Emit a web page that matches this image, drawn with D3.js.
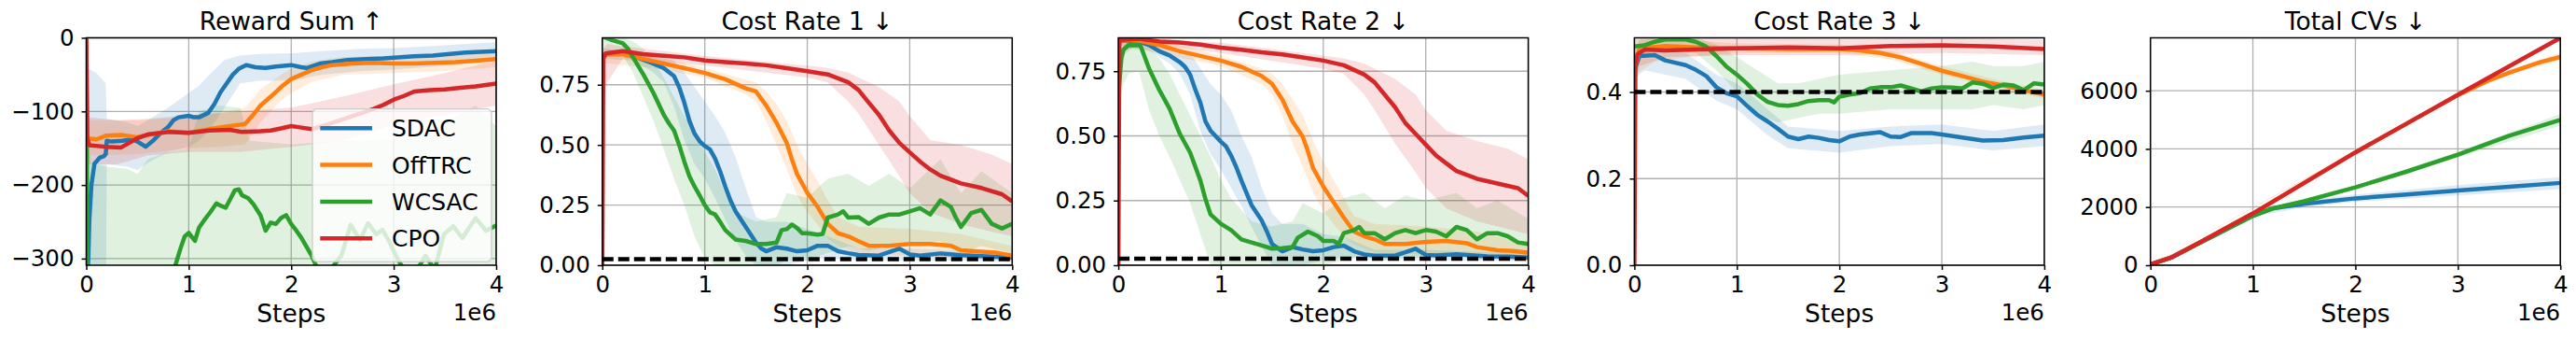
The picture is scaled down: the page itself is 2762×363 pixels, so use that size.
<!DOCTYPE html>
<html>
<head>
<meta charset="utf-8">
<script src="https://cdn.jsdelivr.net/npm/d3@7"></script>
<style>
body { margin: 0; background: #ffffff; }
svg { display: block; font-family: "DejaVu Sans", sans-serif; }
</style>
</head>
<body>
<svg id="chart" width="2762" height="363"></svg>
<script>
//=================== Data (steps in millions) ===================
const algoNames = ["SDAC", "OffTRC", "WCSAC", "CPO"];
const panelTitles = ["Reward Sum ↑", "Cost Rate 1 ↓", "Cost Rate 2 ↓", "Cost Rate 3 ↓", "Total CVs ↓"];
const stepTicks = [0, 1, 2, 3, 4];
const rewardTicks = [0, -100, -200, -300];
const cost1Ticks = [0, 0.25, 0.5, 0.75];
const cost2Ticks = [0, 0.25, 0.5, 0.75];
const cost3Ticks = [0, 0.2, 0.4];
const cvTicks = [0, 2000, 4000, 6000];
const yDomains = [[-309, 0], [0, 0.945], [0, 0.879], [0, 0.525], [0, 7820]];
const costLimits = [null, 0.025, 0.025, 0.4, null];

// ---- Reward Sum ----
const rewardSDAC = [[0,-360],[0.02,-300],[0.03,-248],[0.05,-200],[0.08,-171],[0.13,-163],[0.17,-161],[0.19,-158],[0.2,-140],[0.25,-141],[0.35,-140],[0.45,-138],[0.5,-141],[0.58,-148],[0.65,-140],[0.72,-130],[0.8,-121],[0.85,-112],[0.9,-108],[1.0,-106],[1.05,-108],[1.1,-108],[1.19,-102],[1.25,-90],[1.31,-74],[1.38,-60],[1.43,-50],[1.49,-42],[1.56,-37],[1.65,-40],[1.75,-41],[1.85,-39],[2.0,-37],[2.1,-40],[2.15,-41],[2.28,-35],[2.4,-33],[2.55,-30],[2.73,-29],[2.9,-28],[3.0,-27],[3.2,-25],[3.38,-24],[3.55,-22],[3.7,-20],[3.85,-19],[4.0,-18]];
const rewardSDACBand = [[0,-400,-300],[0.02,-400,-42],[0.1,-400,-48],[0.19,-400,-62],[0.2,-172,-110],[0.4,-175,-115],[0.5,-180,-120],[0.6,-170,-112],[0.8,-155,-95],[1.0,-148,-75],[1.1,-140,-65],[1.2,-125,-50],[1.35,-95,-30],[1.5,-62,-24],[1.7,-58,-22],[2.0,-58,-21],[2.3,-50,-18],[2.7,-45,-15],[3.0,-43,-14],[3.5,-38,-10],[4.0,-31,-6]];
const rewardOffTRC = [[0,0],[0.01,-137],[0.04,-137],[0.1,-138],[0.19,-133],[0.34,-132],[0.49,-135],[0.64,-131],[0.8,-127],[1.0,-129],[1.24,-123],[1.45,-119],[1.55,-117],[1.62,-106],[1.7,-92],[1.8,-80],[1.9,-67],[2.0,-56],[2.1,-50],[2.2,-44],[2.3,-40],[2.4,-37],[2.6,-35],[2.8,-34],[3.0,-35],[3.2,-35],[3.4,-34],[3.6,-33],[3.8,-31],[4.0,-29]];
const rewardOffTRCBand = [[0,-10,0],[0.01,-160,-112],[0.5,-158,-112],[1.0,-150,-108],[1.3,-148,-102],[1.55,-145,-95],[1.7,-115,-70],[1.9,-85,-50],[2.0,-75,-42],[2.2,-60,-32],[2.5,-50,-26],[3.0,-48,-25],[3.5,-45,-24],[4.0,-40,-20]];
const rewardWCSAC = [[0,-135],[0.005,-140],[0.01,-360],[0.5,-380],[0.85,-330],[0.87,-309],[0.92,-286],[0.96,-270],[1.0,-265],[1.06,-276],[1.1,-258],[1.15,-248],[1.21,-237],[1.27,-225],[1.31,-228],[1.36,-231],[1.41,-218],[1.45,-207],[1.49,-206],[1.52,-214],[1.58,-218],[1.63,-226],[1.7,-241],[1.75,-262],[1.8,-251],[1.85,-253],[1.9,-245],[1.95,-241],[2.0,-253],[2.05,-262],[2.1,-272],[2.2,-296],[2.25,-312],[2.31,-320],[2.4,-312],[2.49,-296],[2.58,-254],[2.67,-275],[2.75,-252],[2.83,-267],[2.89,-261],[2.95,-275],[3.04,-301],[3.1,-315],[3.16,-318],[3.25,-310],[3.31,-296],[3.4,-315],[3.49,-267],[3.58,-256],[3.67,-272],[3.75,-255],[3.8,-245],[3.9,-262],[4.0,-255]];
const rewardWCSACBand = [[0,-400,-130],[0.05,-400,-170],[0.2,-400,-175],[0.4,-400,-178],[0.5,-400,-185],[0.6,-400,-165],[0.8,-400,-155],[1.0,-400,-150],[1.1,-400,-100],[1.3,-400,-92],[1.5,-400,-95],[1.6,-400,-140],[2.0,-400,-145],[2.5,-400,-140],[3.0,-400,-138],[3.5,-400,-115],[3.8,-400,-92],[4.0,-400,-120]];
const rewardCPO = [[0,0],[0.01,-137],[0.03,-146],[0.19,-148],[0.34,-149],[0.49,-137],[0.61,-131],[0.8,-128],[1.0,-129],[1.2,-126],[1.4,-125],[1.52,-128],[1.7,-127],[1.8,-126],[1.9,-123],[2.0,-120],[2.1,-122],[2.2,-124],[2.35,-118],[2.5,-111],[2.65,-104],[2.8,-97],[2.9,-91],[3.0,-84],[3.1,-79],[3.2,-73],[3.35,-71],[3.5,-70],[3.65,-68],[3.8,-66],[3.9,-64],[4.0,-62]];
const rewardCPOBand = [[0,-10,0],[0.01,-172,-108],[0.3,-172,-112],[0.6,-160,-110],[1.0,-155,-105],[1.5,-155,-100],[2.0,-148,-95],[2.5,-140,-80],[3.0,-118,-63],[3.5,-105,-48],[4.0,-92,-31]];

// ---- Cost Rate 1 ----
const cost1SDAC = [[0,0.86],[0.05,0.88],[0.2,0.883],[0.3,0.87],[0.5,0.838],[0.6,0.819],[0.7,0.786],[0.75,0.74],[0.8,0.676],[0.85,0.6],[0.9,0.547],[0.95,0.515],[1.0,0.495],[1.05,0.482],[1.1,0.444],[1.15,0.39],[1.2,0.327],[1.25,0.27],[1.3,0.224],[1.4,0.159],[1.5,0.094],[1.55,0.07],[1.6,0.058],[1.7,0.075],[1.8,0.069],[1.9,0.058],[2.0,0.062],[2.1,0.081],[2.2,0.081],[2.3,0.058],[2.4,0.05],[2.5,0.043],[2.7,0.04],[2.8,0.055],[2.9,0.069],[3.0,0.045],[3.1,0.04],[3.3,0.049],[3.5,0.042],[3.6,0.04],[3.8,0.036],[4.0,0.032]];
const cost1SDACBand = [[0,0.86,0.9],[0.3,0.85,0.89],[0.5,0.8,0.87],[0.6,0.76,0.86],[0.7,0.66,0.85],[0.8,0.52,0.8],[0.9,0.42,0.74],[1.0,0.36,0.68],[1.1,0.28,0.62],[1.2,0.19,0.55],[1.3,0.1,0.45],[1.4,0.04,0.32],[1.5,0.0,0.2],[1.6,0.0,0.18],[1.8,0.0,0.18],[2.0,0.02,0.15],[2.2,0.03,0.12],[2.5,0.02,0.07],[3.0,0.02,0.07],[3.5,0.02,0.06],[4.0,0.015,0.05]];
const cost1OffTRC = [[0,0.85],[0.02,0.875],[0.2,0.877],[0.4,0.857],[0.6,0.838],[0.8,0.819],[1.0,0.799],[1.2,0.773],[1.4,0.735],[1.5,0.722],[1.6,0.663],[1.7,0.592],[1.8,0.508],[1.85,0.44],[1.9,0.379],[2.0,0.301],[2.1,0.243],[2.2,0.172],[2.3,0.133],[2.4,0.12],[2.5,0.1],[2.6,0.081],[2.8,0.081],[3.0,0.088],[3.2,0.088],[3.4,0.081],[3.5,0.062],[3.7,0.056],[3.85,0.052],[4.0,0.04]];
const cost1OffTRCBand = [[0,0.84,0.9],[0.5,0.82,0.87],[1.0,0.78,0.82],[1.4,0.71,0.77],[1.5,0.68,0.76],[1.6,0.6,0.72],[1.7,0.5,0.67],[1.8,0.4,0.6],[1.9,0.29,0.5],[2.0,0.22,0.42],[2.1,0.17,0.35],[2.2,0.11,0.27],[2.3,0.08,0.2],[2.5,0.05,0.16],[3.0,0.04,0.15],[3.5,0.03,0.13],[4.0,0.02,0.08]];
const cost1WCSAC = [[0,0.95],[0.1,0.935],[0.2,0.922],[0.25,0.9],[0.3,0.864],[0.4,0.793],[0.5,0.715],[0.6,0.625],[0.65,0.59],[0.7,0.56],[0.75,0.5],[0.8,0.431],[0.85,0.37],[0.9,0.327],[0.95,0.29],[1.0,0.25],[1.05,0.22],[1.1,0.211],[1.15,0.18],[1.2,0.146],[1.3,0.107],[1.4,0.101],[1.5,0.088],[1.6,0.088],[1.7,0.094],[1.75,0.146],[1.8,0.15],[1.85,0.169],[1.9,0.155],[1.95,0.133],[2.0,0.133],[2.1,0.127],[2.15,0.13],[2.2,0.198],[2.3,0.211],[2.35,0.224],[2.4,0.198],[2.5,0.2],[2.6,0.172],[2.7,0.198],[2.8,0.211],[2.9,0.211],[3.0,0.224],[3.1,0.237],[3.2,0.211],[3.3,0.269],[3.4,0.243],[3.45,0.198],[3.5,0.159],[3.6,0.217],[3.7,0.23],[3.8,0.172],[3.9,0.153],[4.0,0.172]];
const cost1WCSACBand = [[0,0.9,0.945],[0.2,0.87,0.945],[0.3,0.8,0.93],[0.4,0.7,0.9],[0.5,0.6,0.85],[0.6,0.48,0.78],[0.7,0.36,0.7],[0.8,0.25,0.62],[0.9,0.12,0.55],[1.0,0.03,0.47],[1.1,0.0,0.4],[1.2,0.0,0.3],[1.3,0.0,0.22],[1.5,0.0,0.18],[1.7,0.0,0.2],[1.8,0.02,0.3],[2.0,0.02,0.28],[2.2,0.05,0.36],[2.4,0.08,0.38],[2.6,0.06,0.33],[2.8,0.08,0.38],[3.0,0.09,0.32],[3.3,0.1,0.44],[3.5,0.05,0.3],[3.7,0.08,0.39],[4.0,0.05,0.3]];
const cost1CPO = [[0,0],[0.01,0.86],[0.03,0.88],[0.2,0.89],[0.4,0.877],[0.6,0.87],[0.8,0.864],[1.0,0.851],[1.2,0.844],[1.4,0.838],[1.6,0.831],[1.8,0.819],[2.0,0.806],[2.2,0.793],[2.4,0.76],[2.5,0.728],[2.6,0.676],[2.7,0.625],[2.8,0.56],[2.9,0.508],[3.0,0.469],[3.1,0.431],[3.2,0.398],[3.3,0.372],[3.5,0.34],[3.7,0.321],[3.9,0.295],[4.0,0.265]];
const cost1CPOBand = [[0,0,0],[0.01,0.72,0.9],[0.05,0.76,0.92],[0.2,0.86,0.91],[1.0,0.83,0.87],[2.0,0.78,0.83],[2.2,0.76,0.82],[2.4,0.68,0.8],[2.5,0.63,0.78],[2.7,0.5,0.74],[2.9,0.37,0.68],[3.0,0.3,0.62],[3.2,0.22,0.52],[3.5,0.17,0.5],[3.8,0.14,0.46],[4.0,0.12,0.42]];

// ---- Cost Rate 2 ----
const cost2SDAC = [[0,0.86],[0.05,0.869],[0.2,0.865],[0.3,0.851],[0.4,0.827],[0.5,0.811],[0.6,0.785],[0.65,0.767],[0.7,0.737],[0.75,0.68],[0.8,0.629],[0.85,0.556],[0.9,0.52],[1.0,0.478],[1.05,0.46],[1.1,0.424],[1.15,0.38],[1.2,0.328],[1.3,0.232],[1.4,0.172],[1.45,0.13],[1.5,0.082],[1.6,0.054],[1.7,0.07],[1.8,0.061],[1.9,0.054],[2.0,0.058],[2.1,0.07],[2.2,0.076],[2.3,0.054],[2.4,0.042],[2.5,0.037],[2.7,0.037],[2.8,0.05],[2.9,0.064],[3.0,0.04],[3.1,0.038],[3.3,0.042],[3.6,0.034],[3.8,0.033],[4.0,0.03]];
const cost2SDACBand = [[0,0.84,0.879],[0.3,0.83,0.87],[0.5,0.78,0.84],[0.6,0.74,0.83],[0.7,0.66,0.82],[0.8,0.52,0.76],[0.9,0.43,0.7],[1.0,0.37,0.66],[1.1,0.3,0.6],[1.2,0.23,0.5],[1.3,0.15,0.42],[1.4,0.07,0.3],[1.5,0.0,0.2],[1.6,0.0,0.16],[1.8,0.0,0.16],[2.0,0.02,0.12],[2.2,0.03,0.11],[2.5,0.02,0.06],[3.0,0.02,0.06],[4.0,0.015,0.045]];
const cost2OffTRC = [[0,0.86],[0.05,0.871],[0.2,0.868],[0.4,0.851],[0.6,0.827],[0.8,0.809],[1.0,0.791],[1.2,0.767],[1.4,0.731],[1.5,0.701],[1.6,0.641],[1.7,0.556],[1.8,0.496],[1.85,0.44],[1.9,0.376],[2.0,0.304],[2.1,0.244],[2.2,0.184],[2.3,0.13],[2.4,0.112],[2.5,0.1],[2.6,0.082],[2.8,0.082],[3.0,0.09],[3.2,0.094],[3.4,0.085],[3.5,0.07],[3.7,0.058],[3.85,0.055],[4.0,0.049]];
const cost2OffTRCBand = [[0,0.85,0.879],[0.5,0.81,0.86],[1.0,0.77,0.81],[1.4,0.7,0.76],[1.5,0.66,0.74],[1.6,0.58,0.7],[1.7,0.47,0.64],[1.8,0.38,0.58],[1.9,0.28,0.48],[2.0,0.21,0.4],[2.1,0.16,0.33],[2.2,0.11,0.26],[2.3,0.08,0.19],[2.5,0.05,0.16],[3.0,0.04,0.15],[3.5,0.03,0.13],[4.0,0.02,0.08]];
const cost2WCSAC = [[0,0.66],[0.03,0.8],[0.05,0.833],[0.1,0.851],[0.2,0.85],[0.22,0.845],[0.3,0.76],[0.4,0.677],[0.5,0.605],[0.6,0.508],[0.7,0.436],[0.8,0.328],[0.85,0.256],[0.9,0.196],[1.0,0.16],[1.1,0.136],[1.2,0.1],[1.3,0.088],[1.4,0.076],[1.5,0.064],[1.6,0.066],[1.7,0.07],[1.75,0.106],[1.85,0.13],[1.95,0.112],[2.0,0.094],[2.1,0.094],[2.15,0.082],[2.2,0.124],[2.3,0.136],[2.35,0.148],[2.4,0.124],[2.5,0.124],[2.6,0.1],[2.7,0.124],[2.8,0.136],[2.9,0.124],[3.0,0.136],[3.1,0.13],[3.2,0.112],[3.3,0.148],[3.4,0.136],[3.5,0.1],[3.6,0.124],[3.7,0.124],[3.8,0.112],[3.9,0.088],[4.0,0.082]];
const cost2WCSACBand = [[0,0.6,0.72],[0.05,0.7,0.85],[0.1,0.74,0.86],[0.2,0.75,0.86],[0.3,0.6,0.84],[0.4,0.5,0.8],[0.5,0.42,0.74],[0.6,0.33,0.66],[0.7,0.24,0.58],[0.8,0.12,0.5],[0.9,0.0,0.42],[1.0,0.0,0.33],[1.1,0.0,0.26],[1.3,0.0,0.17],[1.5,0.0,0.15],[1.7,0.0,0.17],[1.8,0.0,0.24],[2.0,0.0,0.2],[2.2,0.02,0.26],[2.4,0.04,0.28],[2.6,0.02,0.22],[2.8,0.03,0.27],[3.0,0.03,0.25],[3.3,0.04,0.28],[3.5,0.02,0.22],[3.7,0.03,0.25],[4.0,0.02,0.18]];
const cost2CPO = [[0,0],[0.01,0.86],[0.02,0.871],[0.2,0.875],[0.4,0.865],[0.6,0.861],[0.8,0.853],[1.0,0.841],[1.2,0.833],[1.4,0.823],[1.6,0.815],[1.8,0.803],[2.0,0.791],[2.2,0.773],[2.4,0.737],[2.5,0.707],[2.6,0.659],[2.7,0.611],[2.8,0.55],[2.9,0.508],[3.0,0.466],[3.1,0.424],[3.2,0.394],[3.3,0.364],[3.5,0.334],[3.7,0.316],[3.9,0.298],[4.0,0.268]];
const cost2CPOBand = [[0,0,0],[0.01,0.8,0.879],[0.2,0.86,0.879],[1.0,0.82,0.86],[2.0,0.76,0.81],[2.2,0.74,0.8],[2.4,0.66,0.78],[2.5,0.6,0.76],[2.7,0.47,0.72],[2.9,0.36,0.66],[3.0,0.3,0.6],[3.2,0.22,0.52],[3.5,0.17,0.48],[3.8,0.14,0.45],[4.0,0.12,0.41]];

// ---- Cost Rate 3 ----
const cost3SDAC = [[0,0.45],[0.05,0.483],[0.2,0.485],[0.3,0.473],[0.5,0.462],[0.6,0.451],[0.7,0.437],[0.8,0.411],[0.9,0.397],[1.0,0.39],[1.1,0.368],[1.2,0.347],[1.3,0.332],[1.4,0.315],[1.5,0.297],[1.6,0.291],[1.7,0.297],[1.8,0.294],[1.9,0.289],[2.0,0.286],[2.1,0.297],[2.2,0.302],[2.4,0.307],[2.5,0.297],[2.6,0.296],[2.7,0.305],[2.9,0.305],[3.0,0.302],[3.2,0.295],[3.4,0.288],[3.6,0.289],[3.8,0.295],[4.0,0.299]];
const cost3SDACBand = [[0,0.43,0.49],[0.1,0.45,0.51],[0.3,0.44,0.5],[0.5,0.43,0.49],[0.8,0.38,0.44],[1.0,0.36,0.42],[1.3,0.3,0.36],[1.5,0.27,0.32],[2.0,0.26,0.31],[2.5,0.275,0.32],[3.0,0.28,0.325],[3.5,0.265,0.31],[4.0,0.275,0.325]];
const cost3OffTRC = [[0,0.45],[0.05,0.501],[0.3,0.506],[0.6,0.503],[1.0,0.501],[1.5,0.499],[2.0,0.499],[2.2,0.496],[2.4,0.49],[2.6,0.48],[2.8,0.465],[3.0,0.449],[3.2,0.437],[3.4,0.424],[3.6,0.415],[3.8,0.404],[4.0,0.394]];
const cost3OffTRCBand = [[0,0.44,0.52],[0.2,0.47,0.525],[0.5,0.48,0.52],[1.0,0.49,0.512],[2.0,0.49,0.51],[2.5,0.475,0.495],[3.0,0.44,0.46],[3.5,0.41,0.43],[4.0,0.385,0.403]];
const cost3WCSAC = [[0,0.505],[0.1,0.508],[0.2,0.516],[0.3,0.521],[0.5,0.521],[0.6,0.516],[0.7,0.505],[0.8,0.483],[0.9,0.458],[1.0,0.44],[1.1,0.419],[1.2,0.394],[1.3,0.377],[1.4,0.37],[1.5,0.368],[1.6,0.372],[1.7,0.379],[1.8,0.381],[1.9,0.381],[1.95,0.376],[2.0,0.389],[2.1,0.394],[2.2,0.397],[2.3,0.408],[2.4,0.411],[2.5,0.411],[2.6,0.415],[2.7,0.408],[2.8,0.401],[2.9,0.408],[3.0,0.411],[3.1,0.41],[3.2,0.408],[3.3,0.422],[3.4,0.419],[3.5,0.409],[3.6,0.417],[3.7,0.415],[3.8,0.404],[3.9,0.42],[4.0,0.417]];
const cost3WCSACBand = [[0,0.48,0.525],[0.3,0.5,0.525],[0.6,0.49,0.525],[0.8,0.45,0.51],[1.0,0.4,0.48],[1.2,0.35,0.45],[1.4,0.33,0.42],[1.6,0.34,0.42],[1.8,0.35,0.43],[2.0,0.35,0.44],[2.5,0.36,0.45],[3.0,0.36,0.46],[3.3,0.36,0.47],[3.5,0.37,0.46],[3.8,0.36,0.46],[4.0,0.37,0.47]];
const cost3CPO = [[0,0],[0.01,0.46],[0.03,0.487],[0.1,0.498],[0.3,0.496],[0.6,0.498],[1.0,0.501],[1.5,0.503],[2.0,0.501],[2.5,0.506],[3.0,0.508],[3.5,0.505],[4.0,0.499]];
const cost3CPOBand = [[0,0,0],[0.01,0.42,0.5],[0.05,0.46,0.52],[0.3,0.48,0.525],[1.0,0.485,0.525],[2.0,0.485,0.525],[3.0,0.49,0.525],[4.0,0.485,0.52]];

// ---- Total CVs ----
const cvSDAC = [[0,30],[0.2,260],[0.5,800],[1.0,1700],[1.2,1960],[1.5,2110],[2.0,2300],[2.5,2430],[3.0,2570],[3.5,2700],[4.0,2830]];
const cvSDACBand = [[0,30,30],[1.0,1660,1740],[1.5,2000,2230],[2.0,2180,2430],[3.0,2400,2750],[4.0,2620,3030]];
const cvOffTRC = [[0,30],[0.2,260],[0.5,820],[1.0,1780],[1.5,2830],[2.0,3880],[2.5,4870],[3.0,5850],[3.3,6350],[3.5,6620],[3.8,6980],[4.0,7160]];
const cvOffTRCBand = [[0,30,30],[3.0,5830,5880],[3.5,6550,6700],[4.0,7050,7300]];
const cvWCSAC = [[0,30],[0.2,260],[0.5,800],[1.0,1700],[1.2,1960],[1.5,2200],[2.0,2680],[2.5,3220],[3.0,3800],[3.5,4450],[4.0,5000]];
const cvWCSACBand = [[0,30,30],[1.0,1670,1730],[2.0,2620,2740],[3.0,3700,3900],[4.0,4800,5200]];
const cvCPO = [[0,30],[0.2,260],[0.5,820],[1.0,1780],[1.5,2830],[2.0,3880],[2.5,4870],[3.0,5860],[3.5,6840],[4.0,7820]];
const cvCPOBand = [[0,30,30],[4.0,7790,7850]];
//=================== End of Data ===================

var svg = d3.select("#chart");
var colors = { SDAC: "#1f77b4", OffTRC: "#ff7f0e", WCSAC: "#2ca02c", CPO: "#d62728" };
var plotLeft = 92.5, plotStep = 553.3, plotWidth = 439.5;
var plotTop = 40.5, plotHeight = 243.5;

var panels = [
  { ticks: rewardTicks, fmt: d3.format("d"),
    lines: [rewardSDAC, rewardOffTRC, rewardWCSAC, rewardCPO],
    bands: [rewardSDACBand, rewardOffTRCBand, rewardWCSACBand, rewardCPOBand] },
  { ticks: cost1Ticks, fmt: d3.format(".2f"),
    lines: [cost1SDAC, cost1OffTRC, cost1WCSAC, cost1CPO],
    bands: [cost1SDACBand, cost1OffTRCBand, cost1WCSACBand, cost1CPOBand] },
  { ticks: cost2Ticks, fmt: d3.format(".2f"),
    lines: [cost2SDAC, cost2OffTRC, cost2WCSAC, cost2CPO],
    bands: [cost2SDACBand, cost2OffTRCBand, cost2WCSACBand, cost2CPOBand] },
  { ticks: cost3Ticks, fmt: d3.format(".1f"),
    lines: [cost3SDAC, cost3OffTRC, cost3WCSAC, cost3CPO],
    bands: [cost3SDACBand, cost3OffTRCBand, cost3WCSACBand, cost3CPOBand] },
  { ticks: cvTicks, fmt: d3.format("d"),
    lines: [cvSDAC, cvOffTRC, cvWCSAC, cvCPO],
    bands: [cvSDACBand, cvOffTRCBand, cvWCSACBand, cvCPOBand] }
];

panels.forEach(function(p, i) { drawPanel(p, i); });
drawLegend();

function drawPanel(p, i) {
  var left = plotLeft + plotStep * i;
  var g = svg.append("g").attr("transform", `translate(${left},${plotTop})`);

  var x = d3.scaleLinear().domain([0, 4]).range([0, plotWidth]);
  var y = d3.scaleLinear().domain(yDomains[i]).range([plotHeight, 0]);

  // clip for the data
  svg.append("clipPath").attr("id", "clip" + i)
    .append("rect").attr("width", plotWidth).attr("height", plotHeight);

  //=========== grid ===========
  g.append("g").selectAll("line").data(stepTicks).join("line")
    .attr("x1", d => x(d)).attr("x2", d => x(d))
    .attr("y1", 0).attr("y2", plotHeight)
    .attr("stroke", "#b0b0b0").attr("stroke-width", 1.3);
  g.append("g").selectAll("line").data(p.ticks).join("line")
    .attr("x1", 0).attr("x2", plotWidth)
    .attr("y1", d => y(d)).attr("y2", d => y(d))
    .attr("stroke", "#b0b0b0").attr("stroke-width", 1.3);

  var data = g.append("g").attr("clip-path", `url(#clip${i})`);

  //=========== bands then lines ===========
  var area = d3.area().x(d => x(d[0])).y0(d => y(d[1])).y1(d => y(d[2]));
  var line = d3.line().x(d => x(d[0])).y(d => y(d[1]));

  p.bands.forEach(function(b, k) {
    data.append("path").datum(b)
      .attr("d", area)
      .attr("fill", colors[algoNames[k]])
      .attr("fill-opacity", 0.15);
  });
  p.lines.forEach(function(l, k) {
    data.append("path").datum(l)
      .attr("d", line)
      .attr("fill", "none")
      .attr("stroke", colors[algoNames[k]])
      .attr("stroke-width", 4.5)
      .attr("stroke-linejoin", "round");
  });

  // cost limit
  if (costLimits[i] != null) {
    data.append("line")
      .attr("x1", 0).attr("x2", plotWidth)
      .attr("y1", y(costLimits[i])).attr("y2", y(costLimits[i]))
      .attr("stroke", "black").attr("stroke-width", 4.5)
      .attr("stroke-dasharray", "12,5");
  }

  //=========== frame + axes ===========
  g.append("rect").attr("width", plotWidth).attr("height", plotHeight)
    .attr("fill", "none").attr("stroke", "black").attr("stroke-width", 1.5);

  g.append("g")
    .attr("transform", `translate(0,${plotHeight})`)
    .call(d3.axisBottom(x).tickValues(stepTicks).tickFormat(d3.format("d")).tickSize(5).tickPadding(6.5))
    .call(a => a.select(".domain").remove())
    .call(a => a.selectAll("line").attr("stroke", "black").attr("stroke-width", 1.5))
    .call(a => a.selectAll("text").attr("fill", "black").style("font-size", "24.5px").attr("font-family", "DejaVu Sans"));

  g.append("g")
    .call(d3.axisLeft(y).tickValues(p.ticks).tickFormat(p.fmt).tickSize(5).tickPadding(8))
    .call(a => a.select(".domain").remove())
    .call(a => a.selectAll("line").attr("stroke", "black").attr("stroke-width", 1.5))
    .call(a => a.selectAll("text").attr("fill", "black").style("font-size", "24.5px").attr("font-family", "DejaVu Sans"));

  //=========== labels ===========
  g.append("text")
    .attr("x", plotWidth / 2).attr("y", 31.5 - plotTop)
    .attr("text-anchor", "middle")
    .style("font-size", "26.5px")
    .text(panelTitles[i]);
  g.append("text")
    .attr("x", plotWidth / 2).attr("y", 345 - plotTop)
    .attr("text-anchor", "middle")
    .style("font-size", "26.5px")
    .text("Steps");
  g.append("text")
    .attr("x", plotWidth).attr("y", 343 - plotTop)
    .attr("text-anchor", "end")
    .style("font-size", "24.5px")
    .text("1e6");
}

function drawLegend() {
  var lg = svg.append("g").attr("transform", "translate(335,116.7)");
  lg.append("rect")
    .attr("width", 192).attr("height", 163.5)
    .attr("rx", 5).attr("ry", 5)
    .attr("fill", "white").attr("fill-opacity", 0.8)
    .attr("stroke", "#cccccc").attr("stroke-width", 1.3);
  algoNames.forEach(function(name, k) {
    var cy = 20.6 + k * 39.3;
    lg.append("line")
      .attr("x1", 8.3).attr("x2", 64).attr("y1", cy).attr("y2", cy)
      .attr("stroke", colors[name]).attr("stroke-width", 4.5);
    lg.append("text")
      .attr("x", 85).attr("y", cy + 9)
      .style("font-size", "25px")
      .text(name);
  });
}
</script>
</body>
</html>
